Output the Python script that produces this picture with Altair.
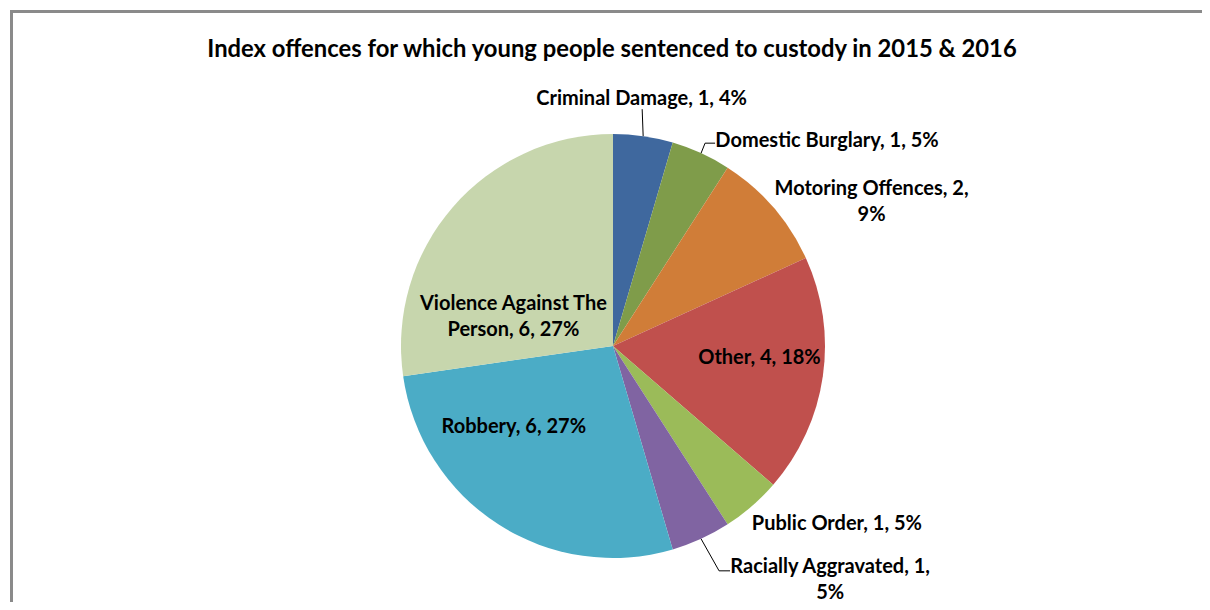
import textwrap
import altair as alt
import pandas as pd

# ---- data ----
categories = [
    "Criminal Damage",
    "Domestic Burglary",
    "Motoring Offences",
    "Other",
    "Public Order",
    "Racially Aggravated",
    "Robbery",
    "Violence Against The Person",
]
counts = [1, 1, 2, 4, 1, 1, 6, 6]
pct_labels = ["4%", "5%", "9%", "18%", "5%", "5%", "27%", "27%"]
colors = ["#3F689E", "#7F9C4A", "#D07D38", "#C0504D", "#9BBB59", "#8064A2", "#4BACC6", "#C7D6AD"]
title_text = "Index offences for which young people sentenced to custody in 2015 & 2016"

# ---- layout (label placement relative to slice mid-angle) ----
CX, CY, R = 603, 336, 212
LINE_H = 26
label_radius = [250, 224, 235, 148, 235, 258, 128, 100]
label_dx = [-7, 121, 81, 0, 70, 110, -30, -24]
label_dy = [0, -1, 10, -9, 0, -1, -27, 36]
wrap_width = [60, 60, 21, 60, 60, 23, 60, 20]
has_leader = [True, True, False, False, False, True, False, False]
lead_ex = [-1, 4, 0, 0, 0, 18, 0, 0]
lead_ey = [-27, -10, 0, 0, 0, 32, 0, 0]
lead_hx = [0, 10, 0, 0, 0, 11, 0, 0]

labels = [
    "\n".join(textwrap.wrap(f"{c}, {n}, {p}", width=w))
    for c, n, p, w in zip(categories, counts, pct_labels, wrap_width)
]
nlines = [lab.count("\n") + 1 for lab in labels]

df = pd.DataFrame({
    "cat": categories,
    "n": counts,
    "idx": list(range(len(categories))),
    "label": labels,
    "nl": nlines,
    "lr": label_radius,
    "ldx": label_dx,
    "ldy": label_dy,
    "lead": has_leader,
    "ex": lead_ex,
    "ey": lead_ey,
    "hx": lead_hx,
})

FONT = "Lato"

base = (
    alt.Chart(df)
    .transform_window(cum="sum(n)", sort=[alt.SortField("idx")], frame=[None, 0])
    .transform_joinaggregate(total="sum(n)")
    .transform_calculate(mid="(datum.cum - datum.n / 2) / datum.total * 2 * PI")
    .transform_calculate(
        lx=f"{CX} + datum.lr * sin(datum.mid) + datum.ldx",
        ly=f"{CY} - datum.lr * cos(datum.mid) + datum.ldy - (datum.nl - 1) * {LINE_H} / 2",
        x1=f"{CX} + {R} * sin(datum.mid)",
        y1=f"{CY} - {R} * cos(datum.mid)",
    )
    .transform_calculate(
        xe="datum.x1 + datum.ex",
        ye="datum.y1 + datum.ey",
    )
    .transform_calculate(xh="datum.xe + datum.hx")
)

pie = (
    alt.Chart(df)
    .mark_arc(outerRadius=R)
    .encode(
        theta=alt.Theta("n:Q", stack=True),
        order=alt.Order("idx:Q"),
        color=alt.Color("cat:N", scale=alt.Scale(domain=categories, range=colors), legend=None),
        x=alt.value(CX),
        y=alt.value(CY),
    )
)

text = base.mark_text(
    font=FONT, fontSize=20, fontWeight="bold", color="#000000",
    align="center", baseline="middle", lineBreak="\n", lineHeight=LINE_H,
).encode(
    x=alt.X("lx:Q", scale=None, axis=None),
    y=alt.Y("ly:Q", scale=None, axis=None),
    text="label:N",
)

lead1 = base.transform_filter("datum.lead").mark_rule(color="#000000", strokeWidth=1).encode(
    x=alt.X("x1:Q", scale=None, axis=None),
    y=alt.Y("y1:Q", scale=None, axis=None),
    x2="xe:Q",
    y2="ye:Q",
)
lead2 = base.transform_filter("datum.lead && datum.hx > 0").mark_rule(color="#000000", strokeWidth=1).encode(
    x=alt.X("xe:Q", scale=None, axis=None),
    y=alt.Y("ye:Q", scale=None, axis=None),
    x2="xh:Q",
    y2="ye:Q",
)

title_df = pd.DataFrame({"t": [title_text]})
title = alt.Chart(title_df).mark_text(
    font=FONT, fontSize=23.8, fontWeight="bold", color="#000000",
    align="center", baseline="middle",
).encode(x=alt.value(602), y=alt.value(40), text="t:N")

frame_df = pd.DataFrame({"a": [0]})
frame_top = alt.Chart(frame_df).mark_rule(color="#8A8A8A", strokeWidth=3).encode(
    x=alt.value(0), x2=alt.value(1194), y=alt.value(1.5)
)
frame_left = alt.Chart(frame_df).mark_rule(color="#8A8A8A", strokeWidth=3).encode(
    x=alt.value(1.5), y=alt.value(0), y2=alt.value(600)
)

chart = (
    alt.layer(frame_top, frame_left, pie, lead1, lead2, text, title)
    .properties(
        width=1194,
        height=594,
        padding=0,
        autosize=alt.AutoSizeParams(type="fit", contains="padding"),
        background="#FFFFFF",
    )
    .configure_view(stroke=None)
)

chart.save("out.html", embed_options={"renderer": "svg", "actions": False})
